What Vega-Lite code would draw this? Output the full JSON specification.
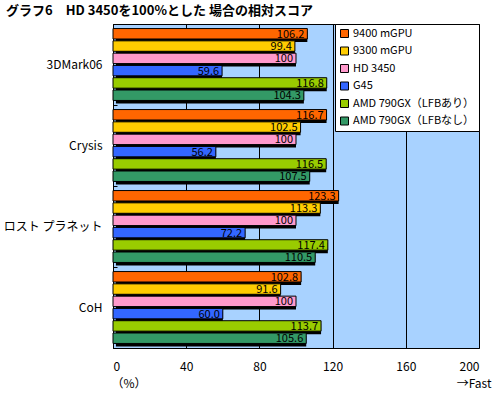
{
  "$schema": "https://vega.github.io/schema/vega-lite/v6.json",
  "width": 366,
  "height": 324,
  "autosize": {"type": "none"},
  "padding": {"left": 113, "top": 24, "right": 21, "bottom": 49},
  "background": "white",
  "config": {
    "font": "Noto Sans CJK JP",
    "view": {"fill": "#a8d2ff", "stroke": "black", "strokeWidth": 1},
    "legend": {"labelFont": "Noto Sans CJK JP"}
  },
  "title": {
    "text": "グラフ6　HD 3450を100%とした 場合の相対スコア",
    "anchor": "start",
    "frame": "group",
    "baseline": "alphabetic",
    "dx": -107,
    "dy": 15,
    "offset": 5,
    "fontSize": 13,
    "fontWeight": "bold",
    "color": "black"
  },
  "data": {
    "values": [
      {"cat": "3DMark06", "series": "9400 mGPU", "value": 106.2, "label": "106.2"},
      {"cat": "3DMark06", "series": "9300 mGPU", "value": 99.4, "label": "99.4"},
      {"cat": "3DMark06", "series": "HD 3450", "value": 100, "label": "100"},
      {"cat": "3DMark06", "series": "G45", "value": 59.6, "label": "59.6"},
      {"cat": "3DMark06", "series": "AMD 790GX（LFBあり）", "value": 116.8, "label": "116.8"},
      {"cat": "3DMark06", "series": "AMD 790GX（LFBなし）", "value": 104.3, "label": "104.3"},
      {"cat": "Crysis", "series": "9400 mGPU", "value": 116.7, "label": "116.7"},
      {"cat": "Crysis", "series": "9300 mGPU", "value": 102.5, "label": "102.5"},
      {"cat": "Crysis", "series": "HD 3450", "value": 100, "label": "100"},
      {"cat": "Crysis", "series": "G45", "value": 56.2, "label": "56.2"},
      {"cat": "Crysis", "series": "AMD 790GX（LFBあり）", "value": 116.5, "label": "116.5"},
      {"cat": "Crysis", "series": "AMD 790GX（LFBなし）", "value": 107.5, "label": "107.5"},
      {"cat": "ロスト プラネット", "series": "9400 mGPU", "value": 123.3, "label": "123.3"},
      {"cat": "ロスト プラネット", "series": "9300 mGPU", "value": 113.3, "label": "113.3"},
      {"cat": "ロスト プラネット", "series": "HD 3450", "value": 100, "label": "100"},
      {"cat": "ロスト プラネット", "series": "G45", "value": 72.2, "label": "72.2"},
      {"cat": "ロスト プラネット", "series": "AMD 790GX（LFBあり）", "value": 117.4, "label": "117.4"},
      {"cat": "ロスト プラネット", "series": "AMD 790GX（LFBなし）", "value": 110.5, "label": "110.5"},
      {"cat": "CoH", "series": "9400 mGPU", "value": 102.8, "label": "102.8"},
      {"cat": "CoH", "series": "9300 mGPU", "value": 91.6, "label": "91.6"},
      {"cat": "CoH", "series": "HD 3450", "value": 100, "label": "100"},
      {"cat": "CoH", "series": "G45", "value": 60.0, "label": "60.0"},
      {"cat": "CoH", "series": "AMD 790GX（LFBあり）", "value": 113.7, "label": "113.7"},
      {"cat": "CoH", "series": "AMD 790GX（LFBなし）", "value": 105.6, "label": "105.6"}
    ]
  },
  "encoding": {
    "x": {
      "field": "value",
      "type": "quantitative",
      "scale": {"domain": [0, 200], "nice": false},
      "axis": {
        "values": [0, 40, 80, 120, 160, 200],
        "grid": true,
        "gridColor": "black",
        "gridOpacity": 1,
        "gridWidth": 1,
        "ticks": false,
        "domain": false,
        "labelPadding": 13,
        "labelFontSize": 12,
        "labelColor": "black",
        "title": "（%）",
        "titleFontSize": 12,
        "titleFontWeight": "normal",
        "titleColor": "black",
        "titleAnchor": "start",
        "titleAlign": "left",
        "titleX": -2,
        "titleY": 35,
        "titleBaseline": "middle"
      }
    },
    "y": {
      "field": "cat",
      "type": "nominal",
      "sort": ["3DMark06", "Crysis", "ロスト プラネット", "CoH"],
      "scale": {"paddingInner": 0, "paddingOuter": 0},
      "axis": {
        "labelFontSize": 12,
        "labelColor": "black",
        "domainColor": "black",
        "tickBand": "extent",
        "tickColor": "black",
        "tickSize": -4,
        "labelPadding": 15,
        "title": "→Fast",
        "titleAngle": 0,
        "titleFontSize": 12,
        "titleFontWeight": "normal",
        "titleColor": "black",
        "titleX": 378,
        "titleY": 359,
        "titleAlign": "right",
        "titleBaseline": "middle"
      }
    }
  },
  "layer": [
    {
      "mark": {"type": "bar", "color": "black"},
      "encoding": {
        "yOffset": {
          "field": "series",
          "type": "nominal",
          "sort": ["9400 mGPU", "9300 mGPU", "HD 3450", "G45", "AMD 790GX（LFBあり）", "AMD 790GX（LFBなし）"],
          "scale": {"paddingInner": 0.15, "paddingOuter": 0.37, "align": 0.83}
        },
        "x2": {"datum": 1.6}
      }
    },
    {
      "mark": {"type": "bar", "stroke": "black", "strokeWidth": 1},
      "encoding": {
        "yOffset": {
          "field": "series",
          "type": "nominal",
          "sort": ["9400 mGPU", "9300 mGPU", "HD 3450", "G45", "AMD 790GX（LFBあり）", "AMD 790GX（LFBなし）"],
          "scale": {"paddingInner": 0.15, "paddingOuter": 0.37}
        },
        "color": {
          "field": "series",
          "type": "nominal",
          "scale": {
            "domain": ["9400 mGPU", "9300 mGPU", "HD 3450", "G45", "AMD 790GX（LFBあり）", "AMD 790GX（LFBなし）"],
            "range": ["#ff6600", "#ffcc00", "#ff99cc", "#3366ff", "#99cc00", "#339966"]
          },
          "legend": {
            "title": null,
            "orient": "none",
            "legendX": 222,
            "legendY": 0,
            "fillColor": "white",
            "strokeColor": "black",
            "padding": 4,
            "symbolType": "square",
            "symbolSize": 64,
            "symbolStrokeColor": "black",
            "symbolStrokeWidth": 1,
            "symbolOpacity": 1,
            "labelFontSize": 11,
            "labelColor": "black",
            "labelLimit": 200,
            "rowPadding": 4.5,
            "labelOffset": 3
          }
        }
      }
    },
    {
      "mark": {"type": "text", "align": "right", "baseline": "middle", "dx": -3, "dy": 1, "fontSize": 11, "color": "black"},
      "encoding": {
        "yOffset": {
          "field": "series",
          "type": "nominal",
          "sort": ["9400 mGPU", "9300 mGPU", "HD 3450", "G45", "AMD 790GX（LFBあり）", "AMD 790GX（LFBなし）"],
          "scale": {"type": "band", "paddingInner": 0.15, "paddingOuter": 0.37}
        },
        "text": {"field": "label"}
      }
    }
  ],
  "resolve": {"scale": {"yOffset": "independent"}}
}
